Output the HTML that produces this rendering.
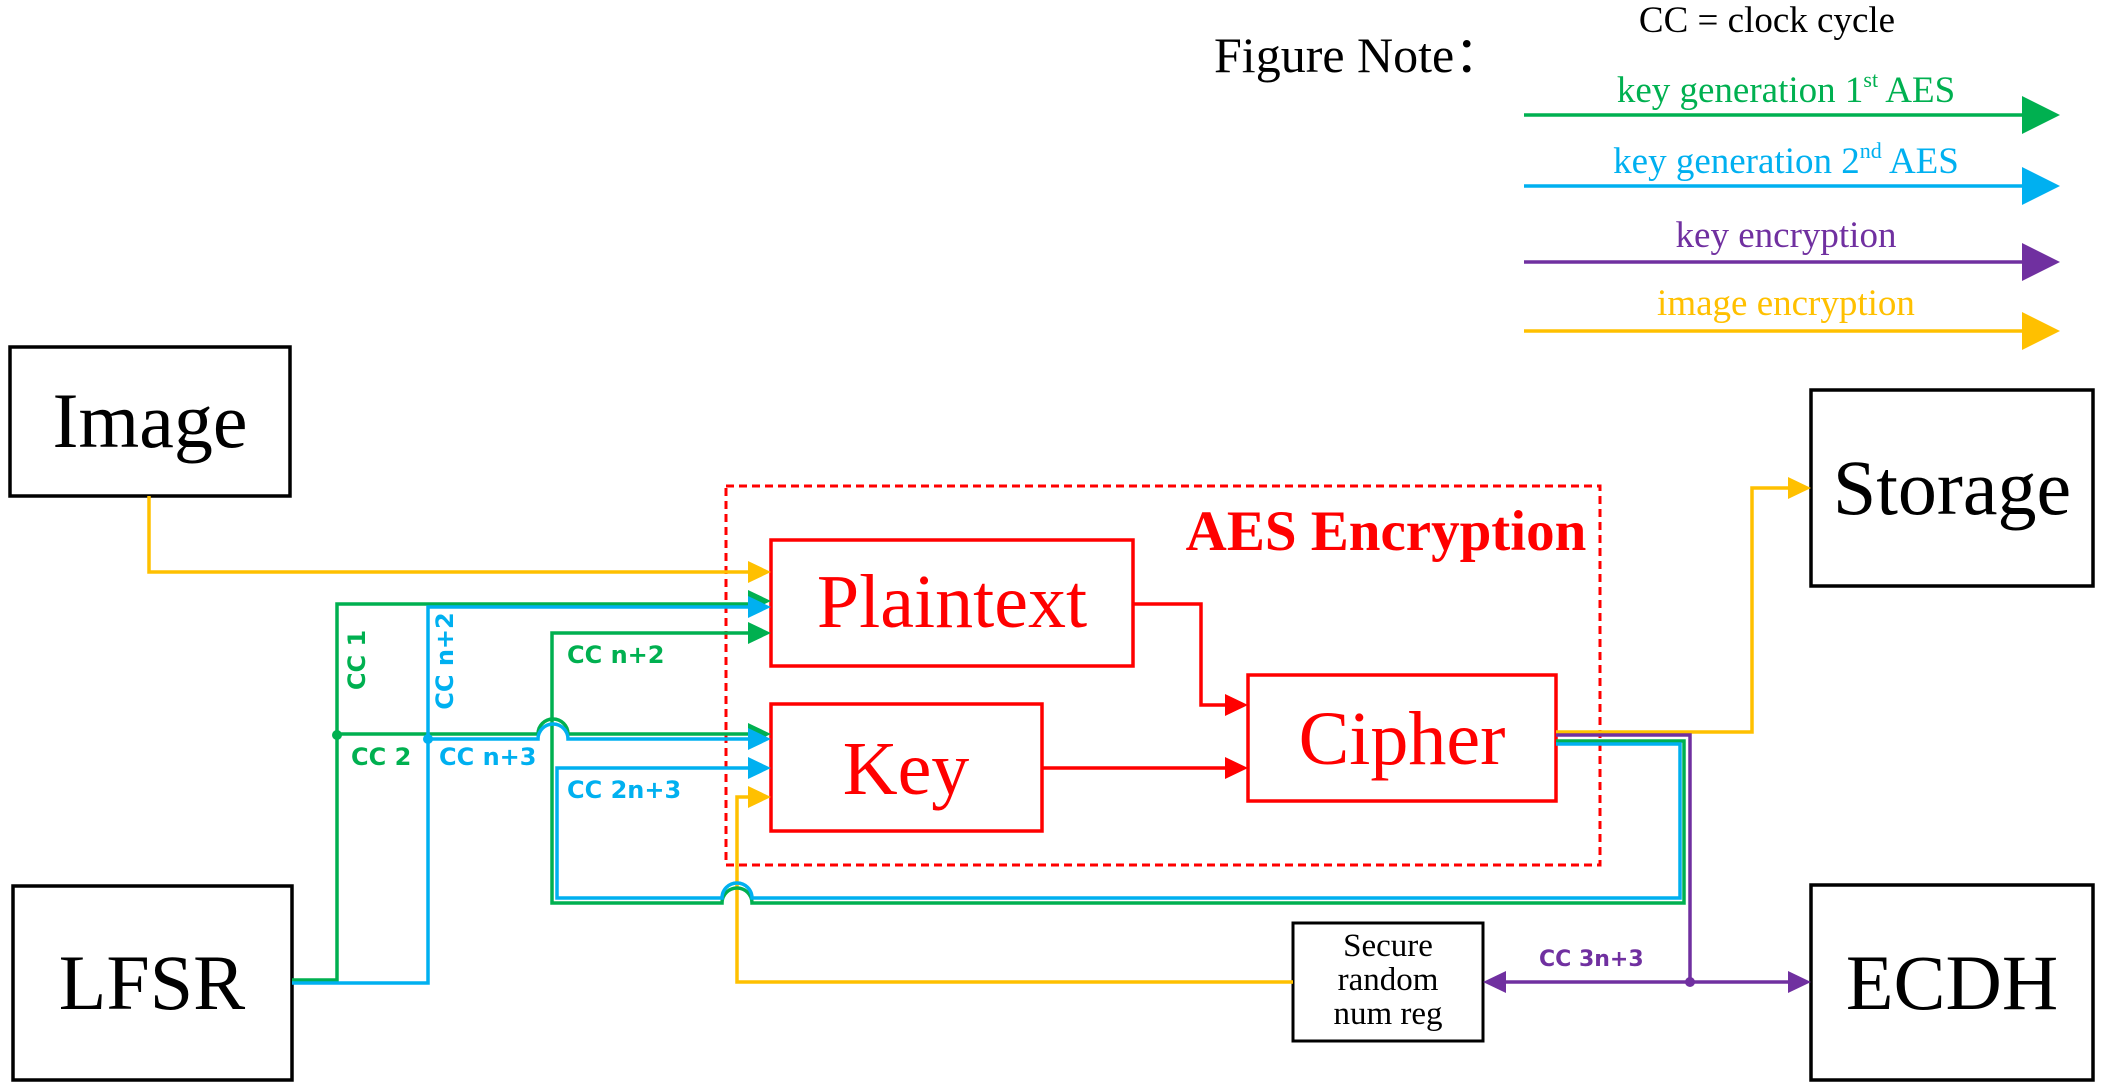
<!DOCTYPE html>
<html><head><meta charset="utf-8"><style>
html,body{margin:0;padding:0;background:#fff;}
svg{display:block;}
.t{font-family:"Liberation Serif",serif;}
.s{font-family:"DejaVu Sans",sans-serif;font-weight:bold;font-size:24px;}
</style></head><body>
<svg width="2101" height="1088" viewBox="0 0 2101 1088" xmlns="http://www.w3.org/2000/svg">
<g fill="none" stroke-width="3.5">
<rect x="10" y="347" width="280" height="149" stroke="#000"/>
<rect x="13" y="886" width="279" height="194" stroke="#000"/>
<rect x="1811" y="390" width="282" height="196" stroke="#000"/>
<rect x="1811" y="885" width="282" height="195" stroke="#000"/>
<rect x="1293" y="923" width="190" height="118" stroke="#000" stroke-width="3"/>
<rect x="726" y="486" width="874" height="379" stroke="#f00" stroke-width="3" stroke-dasharray="8,5"/>
<rect x="771" y="540" width="362" height="126" stroke="#f00"/>
<rect x="771" y="704" width="271" height="127" stroke="#f00"/>
<rect x="1248" y="675" width="308" height="126" stroke="#f00"/>
</g>
<g fill="none" stroke-width="3.5">
<polyline points="1133,604 1201,604 1201,705 1228,705" stroke="#f00"/>
<polyline points="1042,768 1228,768" stroke="#f00"/>
<polyline points="149,496 149,572 750,572" stroke="#ffc000"/>
<polyline points="1293,982 737,982 737,797 750,797" stroke="#ffc000"/>
<polyline points="1556,732 1752,732 1752,488 1790,488" stroke="#ffc000"/>
<polyline points="292,980 337,980 337,604 750,604" stroke="#00b050"/>
<path d="M337,734 L538,734 A15,15 0 0 1 568,734 L750,734" stroke="#00b050"/>
<path d="M750,633 L552,633 L552,903 L722,903 A15,15 0 0 1 752,903 L1684,903 L1684,741 L1556,741" stroke="#00b050"/>
<polyline points="292,983 428,983 428,607 750,607" stroke="#00b0f0"/>
<path d="M428,739 L538,739 A15,15 0 0 1 568,739 L750,739" stroke="#00b0f0"/>
<path d="M750,768 L557,768 L557,898 L722,898 A15,15 0 0 1 752,898 L1680,898 L1680,744 L1556,744" stroke="#00b0f0"/>
<polyline points="1556,735 1690,735 1690,982" stroke="#7030a0"/>
<polyline points="1505,982 1790,982" stroke="#7030a0"/>
<line x1="1524" y1="115" x2="2030" y2="115" stroke="#00b050"/>
<line x1="1524" y1="186" x2="2030" y2="186" stroke="#00b0f0"/>
<line x1="1524" y1="262" x2="2030" y2="262" stroke="#7030a0"/>
<line x1="1524" y1="331" x2="2030" y2="331" stroke="#ffc000"/>
</g>
<g>
<polygon points="771,572 748,561 748,583" fill="#ffc000"/>
<polygon points="771,601 748,590 748,612" fill="#00b050"/>
<polygon points="771,607 748,596 748,618" fill="#00b0f0"/>
<polygon points="771,633 748,622 748,644" fill="#00b050"/>
<polygon points="771,734 748,723 748,745" fill="#00b050"/>
<polygon points="771,739 748,728 748,750" fill="#00b0f0"/>
<polygon points="771,768 748,757 748,779" fill="#00b0f0"/>
<polygon points="771,797 748,786 748,808" fill="#ffc000"/>
<polygon points="1248,705 1225,694 1225,716" fill="#f00"/>
<polygon points="1248,768 1225,757 1225,779" fill="#f00"/>
<polygon points="1811,488 1788,477 1788,499" fill="#ffc000"/>
<polygon points="1811,982 1788,971 1788,993" fill="#7030a0"/>
<polygon points="1483,982 1506,971 1506,993" fill="#7030a0"/>
<polygon points="2060,115 2022,96 2022,134" fill="#00b050"/>
<polygon points="2060,186 2022,167 2022,205" fill="#00b0f0"/>
<polygon points="2060,262 2022,243 2022,281" fill="#7030a0"/>
<polygon points="2060,331 2022,312 2022,350" fill="#ffc000"/>
<circle cx="337" cy="735" r="5" fill="#00b050"/>
<circle cx="428" cy="739" r="5" fill="#00b0f0"/>
<circle cx="1690" cy="982" r="5" fill="#7030a0"/>
</g>
<g class="t" text-anchor="middle">
<text x="150" y="447" font-size="78">Image</text>
<text x="152" y="1009" font-size="78">LFSR</text>
<text x="1952" y="514" font-size="78">Storage</text>
<text x="1952" y="1009" font-size="78">ECDH</text>
<text x="952" y="627" font-size="76" fill="#f00">Plaintext</text>
<text x="906" y="794" font-size="76" fill="#f00">Key</text>
<text x="1402" y="764" font-size="76" fill="#f00">Cipher</text>
<text x="1386" y="550" font-size="57" font-weight="bold" fill="#f00">AES Encryption</text>
<text x="1388" y="956" font-size="33">Secure</text>
<text x="1388" y="990" font-size="33">random</text>
<text x="1388" y="1024" font-size="33">num reg</text>
<text x="1767" y="32" font-size="37">CC = clock cycle</text>
<text x="1786" y="102" font-size="37" fill="#00b050">key generation 1<tspan font-size="22" dy="-15">st</tspan><tspan dy="15"> AES</tspan></text>
<text x="1786" y="173" font-size="37" fill="#00b0f0">key generation 2<tspan font-size="22" dy="-15">nd</tspan><tspan dy="15"> AES</tspan></text>
<text x="1786" y="247" font-size="37" fill="#7030a0">key encryption</text>
<text x="1786" y="315" font-size="37" fill="#ffc000">image encryption</text>
</g>
<text class="t" x="1214" y="72" font-size="50">Figure Note：</text>
<g class="s">
<text x="0" y="0" fill="#00b050" text-anchor="middle" transform="translate(365,660) rotate(-90)">CC 1</text>
<text x="0" y="0" fill="#00b0f0" text-anchor="middle" transform="translate(453,661) rotate(-90)">CC n+2</text>
<text x="567" y="663" fill="#00b050">CC n+2</text>
<text x="351" y="765" fill="#00b050">CC 2</text>
<text x="439" y="765" fill="#00b0f0">CC n+3</text>
<text x="567" y="798" fill="#00b0f0">CC 2n+3</text>
<text x="1539" y="966" fill="#7030a0" font-size="22">CC 3n+3</text>
</g>
</svg>
</body></html>
